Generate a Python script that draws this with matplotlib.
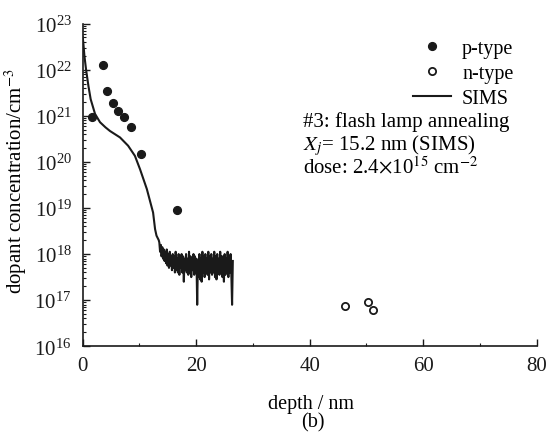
import numpy as np
import matplotlib
matplotlib.use('Agg')
import matplotlib.pyplot as plt
from matplotlib.ticker import LogLocator, NullFormatter, MultipleLocator

plt.rcParams['font.family'] = ['Liberation Serif', 'DejaVu Serif']
plt.rcParams['mathtext.fontset'] = 'stix'

# p-type (filled) and n-type (open) points, depth in nm, concentration in cm^-3
p_depth = [1.6, 3.5, 4.35, 5.35, 6.3, 7.3, 8.5, 10.2, 16.6]
p_conc = [9.3e20, 1.25e22, 3.4e21, 1.9e21, 1.3e21, 9.3e20, 5.8e20, 1.5e20, 9.0e18]
n_depth = [46.3, 50.2, 51.2]
n_conc = [7.4e16, 9.3e16, 6.1e16]

# SIMS profile: smooth part, then the noisy floor (log10 of concentration)
sims_depth_head = [0, 0.1, 0.3, 0.58, 1.0, 1.4, 2.17, 3.05, 4.0, 4.8, 6.57,
                   8.0, 9.2, 10.1, 11.3, 12.4, 12.75, 13.0, 13.4]
sims_log_head = [22.7, 22.59, 22.3, 22.01, 21.65, 21.36, 21.04, 20.86, 20.75,
                 20.67, 20.53, 20.35, 20.13, 19.84, 19.41, 18.9, 18.54, 18.40, 18.3]
sims_log_tail = [18.25, 18.05, 18.2, 17.95, 18.15, 17.9, 18.1, 17.85,
                 18.05, 17.8, 18.1, 17.75, 18.0, 17.7, 18.05, 17.75, 17.95, 17.65, 18.0, 17.7,
                 17.95, 17.6, 18.05, 17.65, 17.9, 17.6, 18.0, 17.55, 17.95, 17.7, 18.0, 17.6,
                 17.95, 17.4, 17.9, 17.65,
                 18.0, 17.6, 17.9, 17.55, 18.05, 17.6, 17.95, 17.5, 17.9, 17.65, 18.0, 17.55, 17.95, 17.6, 17.9,
                 16.9, 17.85,
                 17.5, 18.0, 17.45, 17.9, 17.4, 18.05, 17.6, 17.95, 17.5,
                 18.0, 17.6, 17.9, 17.55, 18.05, 17.45, 17.95, 17.6, 18.0, 17.55, 17.9, 17.6,
                 18.05, 17.5, 17.95, 17.45, 18.0, 17.6, 17.9, 17.55, 18.05, 17.6, 17.95, 17.5,
                 17.95, 17.4, 18.0, 17.55, 17.9, 17.6, 18.05, 17.5, 17.95, 17.6, 18.0, 17.55, 16.9, 17.85]
sims_depth_tail = np.linspace(13.5, 26.45, len(sims_log_tail))

sims_depth = np.concatenate([sims_depth_head, sims_depth_tail])
sims_conc = 10 ** np.concatenate([sims_log_head, sims_log_tail])

fig = plt.figure(figsize=(5.46, 4.39), dpi=100)
ax = fig.add_axes([0.1515, 0.209, 0.8315, 0.735])

ax.plot(sims_depth, sims_conc, color='#1a1a1a', lw=1.5, label='SIMS')
ax.plot(p_depth, p_conc, 'o', color='#1a1a1a', ms=5.6, ls='none', label='p-type')
ax.plot(n_depth, n_conc, 'o', mfc='white', mec='#1a1a1a', mew=1.3, ms=5.2, ls='none', label='n-type')

ax.set_yscale('log')
ax.set_xlim(0, 80)
ax.set_ylim(1e16, 1e23)
ax.xaxis.set_major_locator(MultipleLocator(20))
ax.xaxis.set_minor_locator(MultipleLocator(10))
ax.yaxis.set_major_locator(LogLocator(base=10, numticks=10))
ax.yaxis.set_minor_locator(LogLocator(base=10, subs=np.arange(2, 10), numticks=20))
ax.yaxis.set_minor_formatter(NullFormatter())
ax.tick_params(which='both', direction='in', labelsize=15, colors='#1a1a1a')
ax.tick_params(which='major', length=5, width=1)
ax.tick_params(which='minor', length=2.5, width=0.8)
ax.tick_params(axis='x', pad=7)
ax.tick_params(axis='y', pad=8)
for side in ['top', 'right']:
    ax.spines[side].set_visible(False)
for side in ['left', 'bottom']:
    ax.spines[side].set_linewidth(1.2)
    ax.spines[side].set_color('#1a1a1a')

ax.set_xlabel('depth / nm', fontsize=14.5)
ax.set_ylabel('dopant concentration/cm$^{-3}$', fontsize=15)
ax.xaxis.set_label_coords(0.503, -0.148)
ax.yaxis.set_label_coords(-0.118, 0.514)

h, l = ax.get_legend_handles_labels()
order = [1, 2, 0]
ax.legend([h[i] for i in order], [l[i] for i in order], loc='upper left',
          bbox_to_anchor=(0.727, 0.953), frameon=False, fontsize=14.5,
          handlelength=1.9, labelspacing=0.3, handletextpad=0.55,
          borderpad=0, borderaxespad=0)

ax.text(0.486, 0.698, '#3: flash lamp annealing', transform=ax.transAxes, fontsize=15,
        va='center', ha='left')
ax.text(0.486, 0.626, '$X_j$= 15.2 nm (SIMS)', transform=ax.transAxes, fontsize=15,
        va='center', ha='left')
ax.text(0.486, 0.558, 'dose: 2.4$\\times$10$^{15}$ cm$^{-2}$', transform=ax.transAxes, fontsize=15,
        va='center', ha='left')

fig.text(0.573, 0.036, '(b)', fontsize=14.5, ha='center', va='center')

fig.savefig('out.png', dpi=100)
